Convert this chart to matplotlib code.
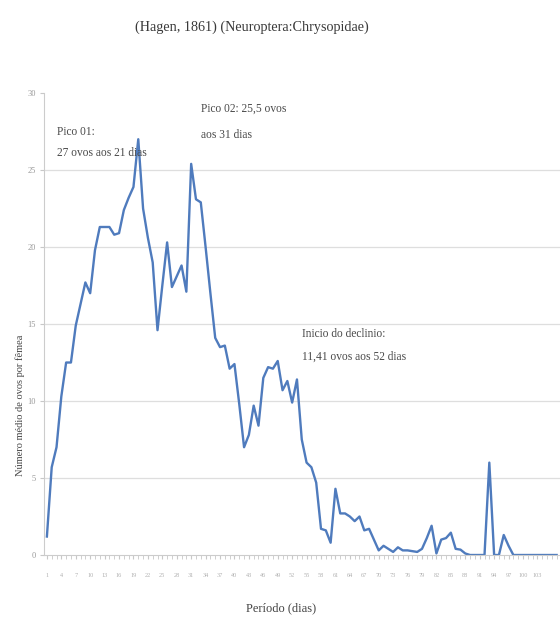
import numpy as np
import matplotlib
matplotlib.use("Agg")
import matplotlib.pyplot as plt

# média diária de ovos por fêmea
ovos = [1.2, 5.7, 7.0, 10.3, 12.5, 12.5, 14.9, 16.3, 17.7, 17.0,
        19.8, 21.3, 21.3, 21.3, 20.8, 20.9, 22.4, 23.2, 23.9, 27.0,
        22.5, 20.6, 19.0, 14.6, 17.5, 20.3, 17.4, 18.1, 18.8, 17.1,
        25.4, 23.1, 22.9, 20.0, 17.0, 14.1, 13.5, 13.6, 12.1, 12.4,
        9.8, 7.0, 7.8, 9.7, 8.4, 11.5, 12.2, 12.1, 12.6, 10.7,
        11.3, 9.9, 11.4, 7.5, 6.0, 5.7, 4.7, 1.7, 1.6, 0.8,
        4.3, 2.7, 2.7, 2.5, 2.2, 2.5, 1.6, 1.7, 1.0, 0.3,
        0.6, 0.4, 0.2, 0.5, 0.3, 0.3, 0.25, 0.2, 0.4, 1.1,
        1.9, 0.1, 1.0, 1.1, 1.45, 0.4, 0.35, 0.1, 0.0, 0.0,
        0.0, 0.0, 6.0, 0.0, 0.0, 1.3, 0.6, 0.0, 0.0, 0.0,
        0.0, 0.0, 0.0, 0.0, 0.0, 0.0, 0.0]
dias = list(range(1, len(ovos) + 1))
y_ticks = [0, 5, 10, 15, 20, 25, 30]

serif = "Liberation Serif"
cinza = "#4a4a4a"

fig = plt.figure(figsize=(5.6, 6.26), dpi=100)
ax = fig.add_axes([0.0786, 0.1134, 0.93, 0.738])

x = np.arange(len(ovos))
ax.plot(x, ovos, color="#4f7bbd", lw=1.7, solid_joinstyle="round")

ax.set_ylim(0, 30)
ax.set_xlim(-0.6, 107.7)
ax.set_yticks(y_ticks)
ax.set_yticklabels([str(v) for v in y_ticks], fontsize=6, color="#999999", family=serif)
for v in y_ticks[1:-1]:
    ax.axhline(v, color="#dedede", lw=0.9, zorder=0)

# um tick por dia, rótulo a cada 3 dias
ax.set_xticks(x, minor=True)
rot = x[:104:3]
ax.set_xticks(rot)
ax.set_xticklabels([str(dias[i]) for i in rot], fontsize=4.5, color="#b0b0b0", family=serif)
ax.tick_params(axis="x", which="both", length=3, color="#c8c8c8", pad=10)
ax.tick_params(axis="y", length=3, color="#c8c8c8", pad=3)

for s in ["top", "right"]:
    ax.spines[s].set_visible(False)
ax.spines["left"].set_color("#cccccc")
ax.spines["bottom"].set_color("#cccccc")

kw = dict(fontsize=8.3, color=cinza, family=serif, va="center")
ax.text(2.1, 27.5, "Pico 01:", **kw)
ax.text(2.1, 26.1, "27 ovos aos 21 dias", **kw)
ax.text(32.1, 29.0, "Pico 02: 25,5 ovos", **kw)
ax.text(32.1, 27.3, "aos 31 dias", **kw)
ax.text(53.1, 14.35, "Inicio do declinio:", **kw)
ax.text(53.1, 12.86, "11,41 ovos aos 52 dias", **kw)

fig.text(252 / 560, 1 - 27 / 626, "(Hagen, 1861) (Neuroptera:Chrysopidae)", ha="center", va="center",
         fontsize=10.2, color="#3a3a3a", family=serif)
fig.text(20 / 560, 1 - 405 / 626, "Número médio de ovos por fêmea", rotation=90,
         ha="center", va="center", fontsize=7.5, color="#444444", family=serif)
fig.text(281 / 560, 1 - 608 / 626, "Período (dias)", ha="center", va="center",
         fontsize=9, color="#444444", family=serif)

fig.savefig("out.png", dpi=100)
